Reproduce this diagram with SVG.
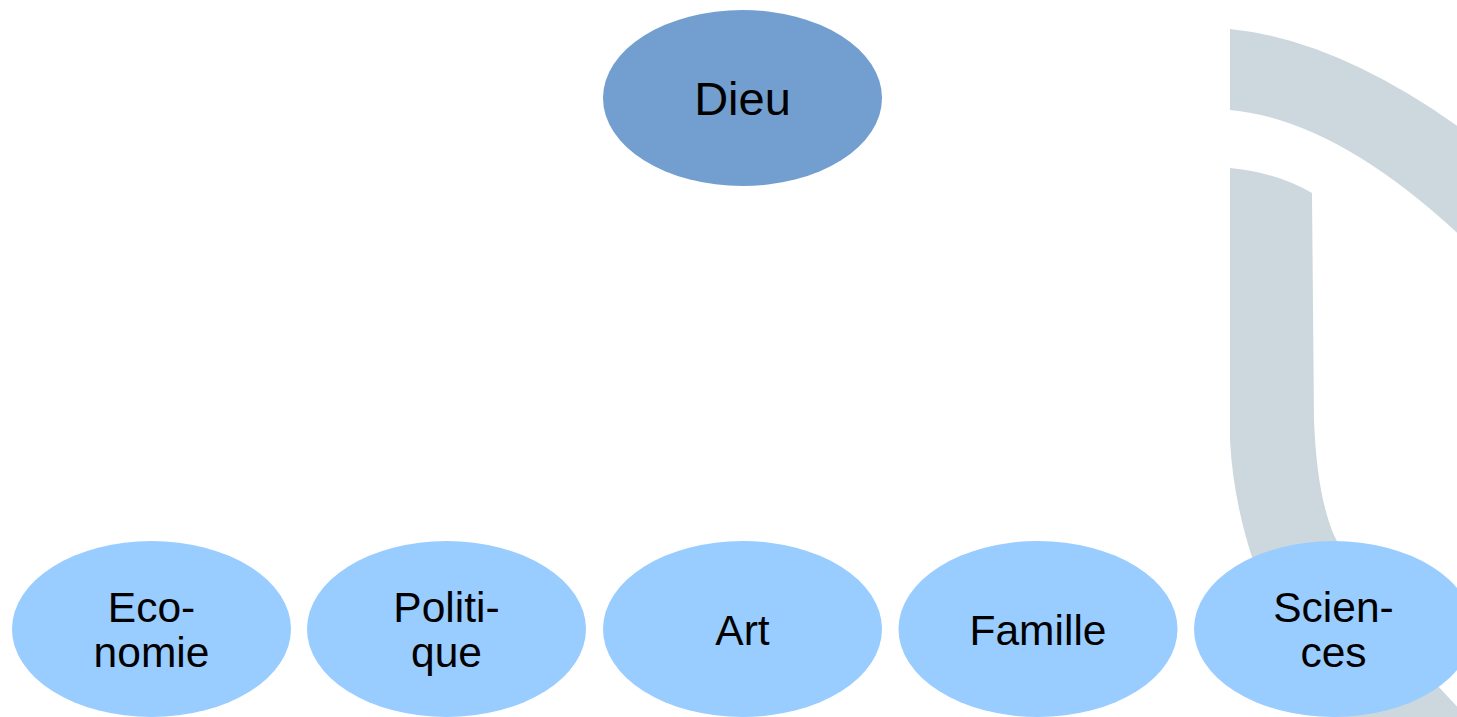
<svg xmlns="http://www.w3.org/2000/svg" width="1457" height="717" viewBox="0 0 1457 717">
<style>
.bg{fill:#cdd8de}
.top{fill:#729fcf}
.sub{fill:#99ccff}
text{font-family:"Liberation Sans",Arial,sans-serif;fill:#000;text-anchor:middle}
.t1{font-size:47px}
.t2{font-size:42.5px}
</style>
<rect width="1457" height="717" fill="#ffffff"/>
<g id="watermark">
<path class="bg" d="M1230,29 Q1340,40 1470,135 L1470,245 Q1340,120 1230,110 Z"/>
<path class="bg" d="M1230,168 Q1275,172 1312,193 L1314,420 C1316,470 1322,505 1333,533 C1370,610 1420,670 1480,730 L1350,740 C1300,680 1265,610 1252,557 C1240,520 1232,480 1230,440 Z"/>
</g>
<g id="connectors"></g>
<g id="node-dieu">
<ellipse class="top" cx="742.5" cy="98" rx="139.5" ry="88"/>
<text class="t1" x="742.5" y="115">Dieu</text>
</g>
<g id="node-economie">
<ellipse class="sub" cx="151.5" cy="629" rx="139.5" ry="88"/>
<text class="t2" x="151.5" y="622">Eco-</text>
<text class="t2" x="151.5" y="667">nomie</text>
</g>
<g id="node-politique">
<ellipse class="sub" cx="446.5" cy="629" rx="139.5" ry="88"/>
<text class="t2" x="446.5" y="622">Politi-</text>
<text class="t2" x="446.5" y="667">que</text>
</g>
<g id="node-art">
<ellipse class="sub" cx="742.5" cy="629" rx="139.5" ry="88"/>
<text class="t2" x="742.5" y="645">Art</text>
</g>
<g id="node-famille">
<ellipse class="sub" cx="1038" cy="629" rx="139.5" ry="88"/>
<text class="t2" x="1038" y="645">Famille</text>
</g>
<g id="node-sciences">
<ellipse class="sub" cx="1333.5" cy="629" rx="139.5" ry="88"/>
<text class="t2" x="1333.5" y="622">Scien-</text>
<text class="t2" x="1333.5" y="667">ces</text>
</g>
</svg>
